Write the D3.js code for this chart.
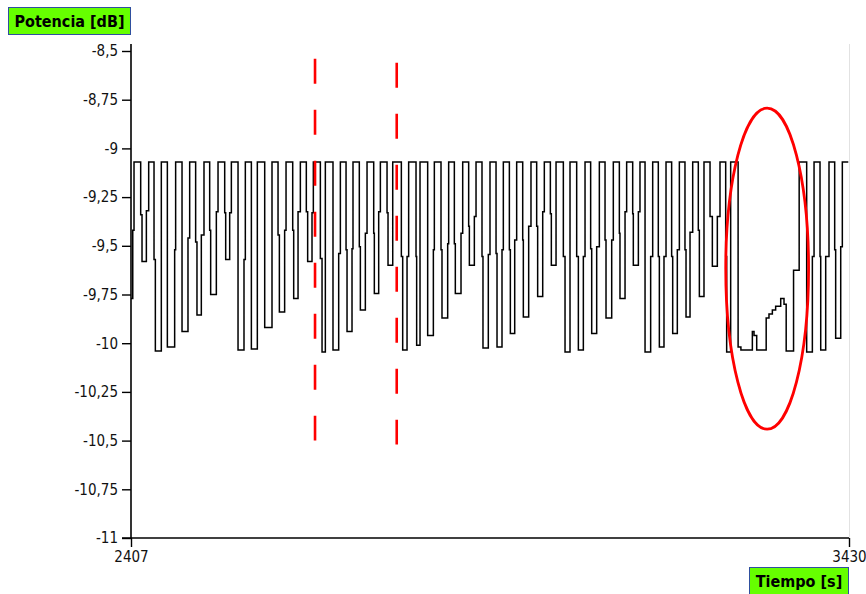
<!DOCTYPE html>
<html lang="es">
<head>
<meta charset="UTF-8" />
<title>Potencia [dB] vs Tiempo [s]</title>
<style>
  body { margin: 0; background: #fff; }
  svg text { font-family: "DejaVu Sans Condensed", "DejaVu Sans", Verdana, sans-serif; font-stretch: condensed; }
</style>
</head>
<body>
<script src="https://cdn.jsdelivr.net/npm/d3@7"></script>
<div id="app"></div>
<script>
// DATOS: instante en que empieza cada tramo y su nivel
const tiempo = [
  2407, 2409.5, 2411.3,
  2420.8, 2422.7, 2428.9, 2432.2,
  2439.8, 2441.7, 2450.2,
  2458.8, 2469.2, 2470.6,
  2479.7, 2488.2, 2490.6,
  2499.1, 2501.0, 2507.2, 2511.0,
  2519.1, 2520.5, 2528.6, 2531.0,
  2540.5, 2541.9, 2547.6, 2550.0,
  2559.5, 2568.0, 2569.9,
  2578.5, 2587.0,
  2597.5, 2607.9,
  2616.5, 2618.4, 2625.9, 2627.9,
  2637.4, 2638.8, 2645.0, 2648.3,
  2656.8, 2658.7, 2664.9, 2666.8,
  2676.8, 2679.2, 2683.9,
  2694.8, 2702.9, 2705.3,
  2713.4, 2714.8, 2721.9, 2723.3,
  2732.3, 2733.8, 2740.9, 2743.3,
  2752.8, 2753.7, 2759.9, 2762.3,
  2771.8, 2773.2, 2779.9,
  2792.2, 2794.1, 2800.3, 2802.6,
  2813.1, 2814.0, 2818.8,
  2829.7, 2837.8, 2839.2,
  2848.7, 2850.1, 2858.2, 2859.6,
  2867.7, 2869.1, 2877.2, 2879.6,
  2888.1, 2889.1, 2896.2, 2898.6,
  2907.1, 2908.5, 2916.1, 2918.5,
  2927.1, 2928.5, 2935.6, 2937.5,
  2946.1, 2947.5, 2953.7, 2956.5,
  2965.1, 2966.0, 2973.6, 2976.9,
  2985.0, 2986.4, 2993.6, 2995.9,
  3004.5, 3005.9, 3012.6,
  3023.0, 3025.4, 3032.5,
  3042.0, 3044.4, 3051.5, 3053.9,
  3061.9, 3063.4, 3070.5, 3074.3,
  3082.4, 3083.8, 3091.9, 3094.2,
  3102.8, 3103.7, 3110.9, 3113.2,
  3121.8, 3122.7, 3129.9, 3132.2,
  3139.4, 3147.4, 3150.3,
  3158.3, 3159.8, 3166.4, 3169.3,
  3177.3, 3178.8, 3185.4, 3188.3,
  3196.3, 3197.8, 3203.5, 3207.3,
  3215.3, 3216.8, 3223.4,
  3232.0, 3235.3, 3242.4, 3246.2,
  3254.3, 3255.7, 3261.4,
  3272.0, 3276.0, 3292.3, 3294.7, 3298.5, 3312.0, 3316.0, 3320.8, 3325.5, 3332.7, 3337.4, 3340.5, 3351.0, 3359.0,
  3369.7, 3377.8, 3380.2,
  3388.7, 3389.7, 3396.8, 3401.5,
  3409.6, 3411.0, 3418.2, 3420.5,
  3429
];
const potencia = [
  -9.77, -9.42, -9.07,
  -9.34, -9.58, -9.32, -9.07,
  -9.57, -10.04, -9.07,
  -10.02, -9.52, -9.07,
  -9.94, -9.46, -9.07,
  -9.48, -9.855, -9.445, -9.07,
  -9.42, -9.75, -9.325, -9.07,
  -9.33, -9.57, -9.33, -9.07,
  -10.035, -9.57, -9.07,
  -10.03, -9.07,
  -9.92, -9.07,
  -9.445, -9.84, -9.42, -9.07,
  -9.42, -9.77, -9.325, -9.07,
  -9.325, -9.58, -9.33, -9.07,
  -9.565, -10.045, -9.07,
  -10.035, -9.54, -9.07,
  -9.52, -9.94, -9.515, -9.07,
  -9.505, -9.83, -9.435, -9.07,
  -9.435, -9.745, -9.325, -9.07,
  -9.33, -9.6, -9.07,
  -9.555, -10.035, -9.555, -9.07,
  -9.555, -10.01, -9.07,
  -9.96, -9.52, -9.07,
  -9.52, -9.87, -9.49, -9.07,
  -9.49, -9.745, -9.435, -9.07,
  -9.4, -9.6, -9.35, -9.07,
  -9.555, -10.025, -9.545, -9.07,
  -9.54, -10.02, -9.52, -9.07,
  -9.52, -9.95, -9.47, -9.07,
  -9.47, -9.865, -9.4, -9.07,
  -9.4, -9.76, -9.325, -9.07,
  -9.335, -9.6, -9.07,
  -9.555, -10.045, -9.07,
  -9.555, -10.035, -9.555, -9.07,
  -9.515, -9.95, -9.505, -9.07,
  -9.47, -9.87, -9.47, -9.07,
  -9.435, -9.77, -9.325, -9.07,
  -9.335, -9.6, -9.325, -9.07,
  -10.045, -9.555, -9.07,
  -9.555, -10.02, -9.555, -9.07,
  -9.555, -9.95, -9.52, -9.07,
  -9.52, -9.865, -9.43, -9.07,
  -9.42, -9.76, -9.07,
  -9.35, -9.605, -9.35, -9.07,
  -9.555, -10.045, -9.07,
  -10.02, -10.035, -9.94, -9.96, -10.035, -9.87, -9.85, -9.83, -9.81, -9.77, -9.80, -10.04, -9.625, -9.07,
  -10.045, -9.555, -9.07,
  -9.555, -10.035, -9.555, -9.07,
  -9.52, -9.975, -9.505, -9.07,
  -9.07
];
const ticksY = [-8.5, -8.75, -9, -9.25, -9.5, -9.75, -10, -10.25, -10.5, -10.75, -11];
const etiquetasY = ["-8,5", "-8,75", "-9", "-9,25", "-9,5", "-9,75", "-10", "-10,25", "-10,5", "-10,75", "-11"];
const ticksX = [2407, 3430];
// Anotaciones en rojo (unidades de los ejes)
const marcasTiempo = [2669.2, 2785.6];
const marcasDesde = [-8.54, -8.56];
const marcasHasta = [-10.5, -10.52];
const elipseCentro = [3313.4, -9.6175];
const elipseRadio = [59, 0.824];

// SVG
const w = 866;
const h = 594;
const svg = d3.select("#app")
  .append("svg")
  .attr("width", w)
  .attr("height", h);

// Escalas
const xScale = d3.scaleLinear().domain([2407, 3430]).range([131, 849]);
const yScale = d3.scaleLinear().domain([-11, -8.5]).range([538, 51]);

// Borde derecho gris
svg.append("line")
  .attr("x1", 849.5).attr("x2", 849.5)
  .attr("y1", 44).attr("y2", 538)
  .attr("stroke", "#e2e2e2");

// Eje Y
const yAxis = svg.append("g")
  .attr("transform", "translate(131,0)")
  .call(d3.axisLeft(yScale)
    .tickValues(ticksY)
    .tickFormat((d, i) => etiquetasY[i])
    .tickSize(9)
    .tickPadding(4)
    .tickSizeOuter(0));
yAxis.select(".domain").remove();
yAxis.selectAll("line").attr("stroke", "#000").attr("stroke-width", 1.4);
yAxis.selectAll("text").attr("font-size", 15).attr("fill", "#111");

// Eje X
const xAxis = svg.append("g")
  .attr("transform", "translate(0,538)")
  .call(d3.axisBottom(xScale)
    .tickValues(ticksX)
    .tickFormat(d3.format("d"))
    .tickSize(9)
    .tickPadding(4)
    .tickSizeOuter(0));
xAxis.select(".domain").remove();
xAxis.selectAll("line").attr("stroke", "#000").attr("stroke-width", 1.4);
xAxis.selectAll("text").attr("font-size", 15).attr("fill", "#111");

// Líneas de los ejes
svg.append("line")
  .attr("x1", 131).attr("x2", 131)
  .attr("y1", 44).attr("y2", 538)
  .attr("stroke", "#000").attr("stroke-width", 1.6);
svg.append("line")
  .attr("x1", 122).attr("x2", 849)
  .attr("y1", 538).attr("y2", 538)
  .attr("stroke", "#000").attr("stroke-width", 1.4);

// Señal
const puntos = tiempo.map((t, i) => [t, potencia[i]]);
const linea = d3.line()
  .x(d => xScale(d[0]))
  .y(d => yScale(d[1]))
  .curve(d3.curveStepAfter);
svg.append("path")
  .datum(puntos)
  .attr("d", linea)
  .attr("fill", "none")
  .attr("stroke", "#000")
  .attr("stroke-width", 1.5);

// Marcas rojas discontinuas
svg.selectAll(".marca")
  .data(marcasTiempo)
  .enter()
  .append("line")
  .attr("class", "marca")
  .attr("x1", d => xScale(d)).attr("x2", d => xScale(d))
  .attr("y1", (d, i) => yScale(marcasDesde[i]))
  .attr("y2", (d, i) => yScale(marcasHasta[i]))
  .attr("stroke", "#ff0000")
  .attr("stroke-width", 2.6)
  .attr("stroke-dasharray", "25,26");

// Elipse roja
svg.append("ellipse")
  .attr("cx", xScale(elipseCentro[0]))
  .attr("cy", yScale(elipseCentro[1]))
  .attr("rx", xScale(elipseCentro[0] + elipseRadio[0]) - xScale(elipseCentro[0]))
  .attr("ry", yScale(elipseCentro[1]) - yScale(elipseCentro[1] + elipseRadio[1]))
  .attr("fill", "none")
  .attr("stroke", "#ff0000")
  .attr("stroke-width", 2.8);

// Títulos de los ejes (cajas verdes)
function caja(x, y, ancho, alto, texto) {
  svg.append("rect")
    .attr("x", x).attr("y", y)
    .attr("width", ancho).attr("height", alto)
    .attr("fill", "#66ff00")
    .attr("stroke", "#2f4f9f")
    .attr("stroke-width", 1);
  svg.append("text")
    .attr("x", x + ancho / 2)
    .attr("y", y + alto / 2)
    .attr("dy", "0.36em")
    .attr("text-anchor", "middle")
    .attr("font-size", 16)
    .attr("font-weight", "bold")
    .attr("fill", "#000")
    .text(texto);
}
caja(8.5, 7.5, 122, 27, "Potencia [dB]");
caja(749.5, 567.5, 99, 28, "Tiempo [s]");
</script>
</body>
</html>
